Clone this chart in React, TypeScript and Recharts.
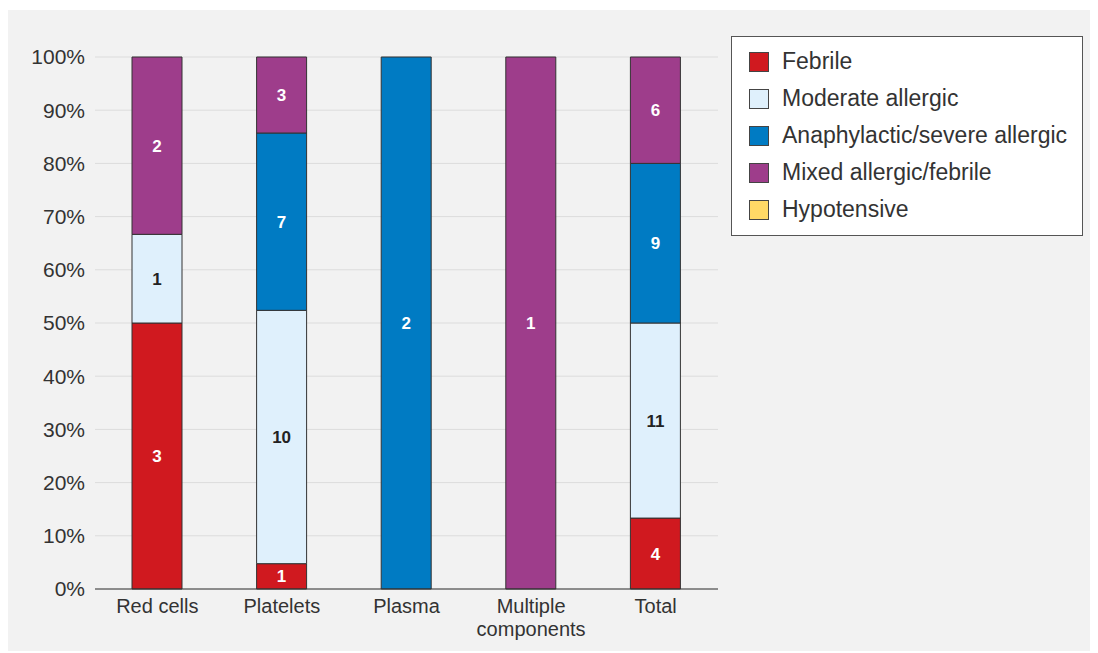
import React from "react";
import {
  BarChart,
  Bar,
  XAxis,
  YAxis,
  CartesianGrid,
  LabelList,
} from "recharts";

const components = ["Red cells", "Platelets", "Plasma", "Multiple components", "Total"];

// reaction counts per component
const febrile = [3, 1, 0, 0, 4];
const moderateAllergic = [1, 10, 0, 0, 11];
const anaphylactic = [0, 7, 2, 0, 9];
const mixed = [2, 3, 0, 1, 6];
const hypotensive = [0, 0, 0, 0, 0];

const yTicks = [0, 0.1, 0.2, 0.3, 0.4, 0.5, 0.6, 0.7, 0.8, 0.9, 1];

const series = [
  { key: "febrile", name: "Febrile", color: "#d0191f", labelColor: "#ffffff" },
  { key: "moderate", name: "Moderate allergic", color: "#dff0fc", labelColor: "#222222" },
  { key: "anaphylactic", name: "Anaphylactic/severe allergic", color: "#007bc3", labelColor: "#ffffff" },
  { key: "mixed", name: "Mixed allergic/febrile", color: "#9e3d8b", labelColor: "#ffffff" },
  { key: "hypotensive", name: "Hypotensive", color: "#ffd966", labelColor: "#222222" },
];

const data = components.map((c, i) => ({
  component: c,
  febrile: febrile[i],
  moderate: moderateAllergic[i],
  anaphylactic: anaphylactic[i],
  mixed: mixed[i],
  hypotensive: hypotensive[i],
}));

const FONT = "'Liberation Sans', Arial, sans-serif";

function CategoryTick({ x, y, payload }: any) {
  const words: string[] =
    payload.value === "Multiple components" ? ["Multiple", "components"] : [payload.value];
  return (
    <text x={x} y={y} textAnchor="middle" fill="#333" fontSize={20} fontFamily={FONT}>
      {words.map((w, i) => (
        <tspan key={w} x={x} dy={i === 0 ? 16 : 23}>
          {w}
        </tspan>
      ))}
    </text>
  );
}

function LegendBox() {
  return (
    <div
      style={{
        position: "absolute",
        left: 723,
        top: 26,
        width: 352,
        height: 200,
        background: "#fff",
        border: "1px solid #555",
        boxSizing: "border-box",
        padding: "6px 0 0 17px",
        fontFamily: FONT,
      }}
    >
      {series.map((s) => (
        <div
          key={s.key}
          style={{ display: "flex", alignItems: "center", height: 37 }}
        >
          <div
            style={{
              width: 20,
              height: 20,
              background: s.color,
              border: "1px solid #444",
              boxSizing: "border-box",
              marginRight: 13,
            }}
          />
          <span style={{ fontSize: 23, color: "#333" }}>{s.name}</span>
        </div>
      ))}
    </div>
  );
}

export default function App() {
  return (
    <div
      style={{
        position: "relative",
        top: 2,
        width: 1090,
        height: 643,
        background: "#f2f2f2",
        fontFamily: FONT,
      }}
    >
      <BarChart
        width={1090}
        height={643}
        data={data}
        stackOffset="expand"
        margin={{ top: 47, right: 380, bottom: 34, left: 7 }}
        barSize={50}
      >
        <CartesianGrid vertical={false} stroke="#dcdcdc" />
        <XAxis
          dataKey="component"
          height={30}
          axisLine={{ stroke: "#333" }}
          tickLine={false}
          interval={0}
          tick={<CategoryTick />}
        />
        <YAxis
          width={80}
          domain={[0, 1]}
          ticks={yTicks}
          axisLine={false}
          tickLine={false}
          tickSize={0}
          tickMargin={10}
          tickFormatter={(v: number) => `${Math.round(v * 100)}%`}
          tick={{ fill: "#333", fontSize: 21, fontFamily: FONT }}
        />
        {series.map((s) => (
          <Bar
            key={s.key}
            dataKey={s.key}
            name={s.name}
            stackId="a"
            fill={s.color}
            stroke="#333"
            strokeWidth={1}
            isAnimationActive={false}
          >
            <LabelList
              dataKey={s.key}
              position="center"
              fill={s.labelColor}
              fontSize={17}
              fontWeight="bold"
              fontFamily={FONT}
              formatter={(v: any) => (Number(v) > 0 ? v : "")}
            />
          </Bar>
        ))}
      </BarChart>
      <LegendBox />
    </div>
  );
}
